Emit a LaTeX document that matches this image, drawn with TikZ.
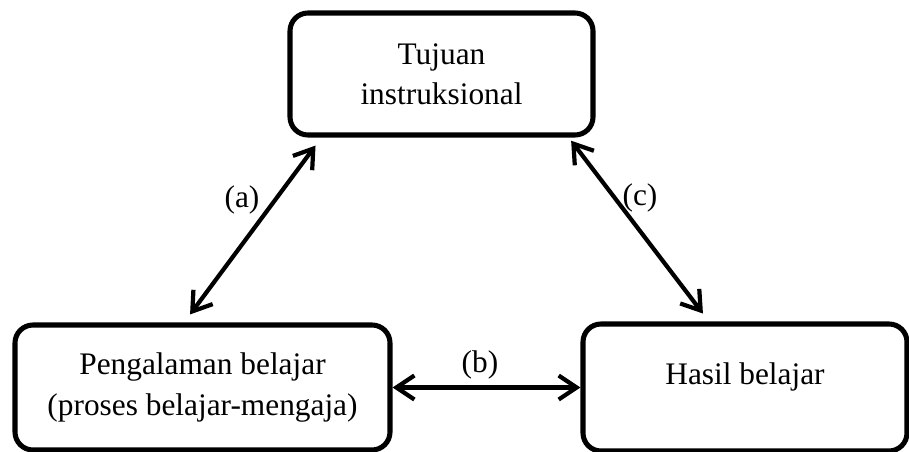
\documentclass[tikz,border=0pt]{standalone}
\usepackage{fontspec}
\setmainfont{Liberation Serif}
\usetikzlibrary{arrows.meta}

\begin{document}
\begin{tikzpicture}[
  box/.style={rectangle, draw, line width=3.6pt, rounded corners=0.45cm, align=center, font=\fontsize{22.3}{28.5}\selectfont},
  link/.style={{Straight Barb[length=0.45cm,width=0.6cm]}-{Straight Barb[length=0.45cm,width=0.6cm]}, line width=3pt},
  tag/.style={font=\fontsize{22.3}{28.5}\selectfont}
]
  \useasboundingbox (0,0) rectangle (22.725,11.275);
  % Nodes
  \node (tujuan) [box, minimum height=3.05cm, minimum width=7.575cm] at (11.0375,9.425) {Tujuan\\instruksional};
  \node (pengalaman) [box, minimum height=3.125cm, minimum width=9.375cm] at (5.0625,1.5875) {Pengalaman belajar\\(proses belajar-mengaja)};
  \node (hasil) [box, minimum height=3.175cm, minimum width=8.1cm, text depth=0.71cm] at (18.625,1.5875) {Hasil belajar};
  % Labels
  \node (a) [tag] at (6.05,6.275) {(a)};
  \node (b) [tag] at (12,2.15) {(b)};
  \node (c) [tag] at (16,6.325) {(c)};
  % Arrow
  \draw[link, shorten <=0.25cm, shorten >=0.25cm] ([xshift=-0.46cm]pengalaman.north) -- ([xshift=-3cm]tujuan.south);
  \draw[link] (pengalaman) -- (hasil);
  \draw[link, shorten <=0.1cm, shorten >=0.25cm] ([xshift=3.18cm]tujuan.south) -- ([xshift=-0.9cm]hasil.north);
\end{tikzpicture}
\end{document}
